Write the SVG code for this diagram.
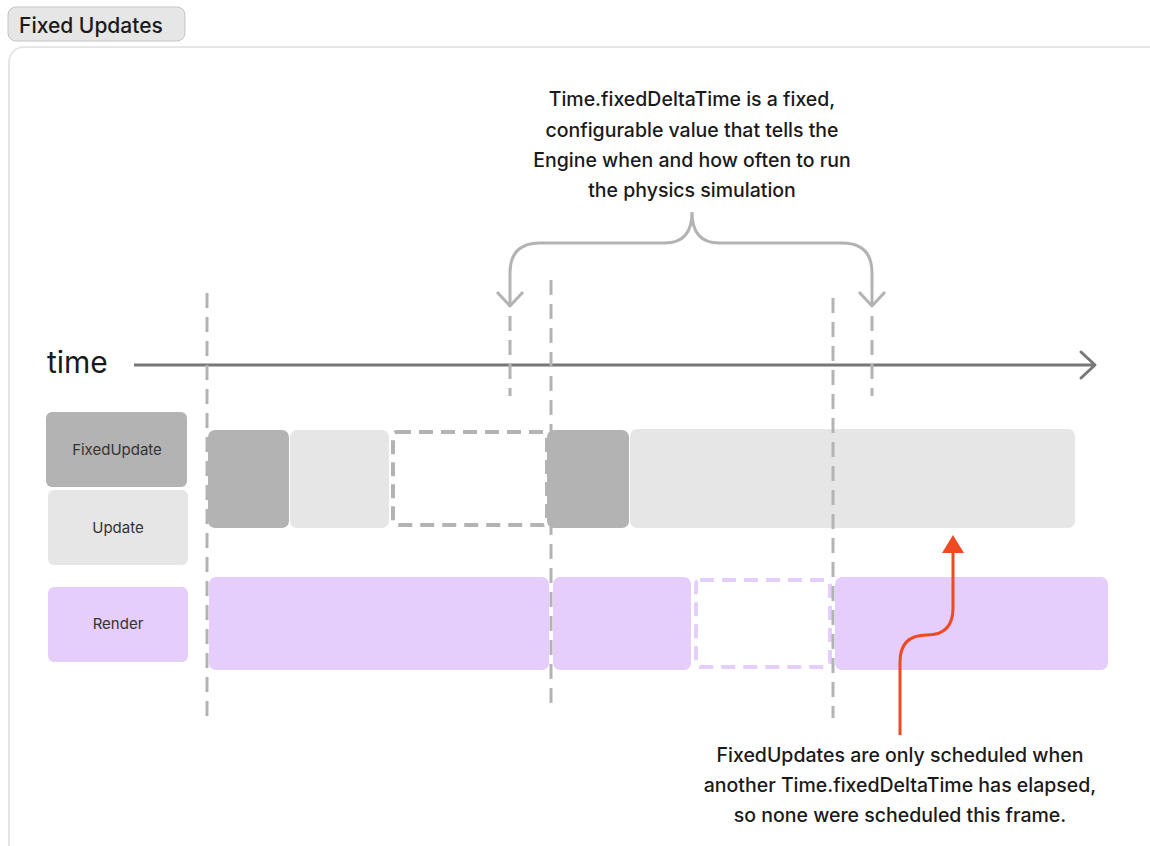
<svg xmlns="http://www.w3.org/2000/svg" width="1150" height="846" viewBox="0 0 1150 846">
<defs>
<style>
text{font-family:Inter,"Noto Sans",sans-serif;fill:#1a1a1a}
.note{font-size:19.5px;text-anchor:middle;font-weight:500}
.lbl{font-size:15px;text-anchor:middle;fill:#333}
.vd{stroke:#b3b3b3;stroke-width:3;stroke-dasharray:15 9;fill:none}
.fu{fill:#b3b3b3}
.up{fill:#e6e6e6}
.rd{fill:#e5cdfc}
</style>
</defs>
<rect x="8" y="7" width="177" height="34" rx="8" fill="#e6e6e6" stroke="#c4c4c4" stroke-width="1"/>
<text x="19" y="33" font-size="21" font-weight="500">Fixed Updates</text>
<rect x="9" y="47" width="1160" height="820" rx="15" fill="#fff" stroke="#e6e6e6" stroke-width="2"/>

<g id="legend-fixedupdate"><rect x="46" y="412" width="141" height="75" rx="6" class="fu"/><text x="117" y="455" class="lbl">FixedUpdate</text></g>
<g id="legend-update"><rect x="48" y="490" width="140" height="75" rx="6" class="up"/><text x="118" y="533" class="lbl">Update</text></g>
<g id="legend-render"><rect x="48" y="587" width="140" height="75" rx="6" class="rd"/><text x="118" y="629" class="lbl">Render</text></g>

<g id="row-update">
<rect x="208" y="430" width="81" height="98" rx="7" class="fu"/>
<rect x="290" y="430" width="99" height="98" rx="7" class="up"/>
<rect x="393" y="432" width="154" height="93" rx="4" fill="none" stroke="#b3b3b3" stroke-width="4" stroke-dasharray="14 8"/>
<rect x="547" y="430" width="82" height="98" rx="7" class="fu"/>
<rect x="630" y="429" width="445" height="99" rx="7" class="up"/>
</g>
<g id="row-render">
<rect x="209" y="577" width="340" height="93" rx="7" class="rd"/>
<rect x="553" y="577" width="138" height="93" rx="7" class="rd"/>
<rect x="696" y="580" width="134" height="87" rx="4" fill="none" stroke="#e5cdfc" stroke-width="4" stroke-dasharray="14 8"/>
<rect x="835" y="577" width="273" height="93" rx="7" class="rd"/>
</g>

<g id="timeline">
<text x="47" y="373" font-size="30">time</text>
<line x1="134" y1="365" x2="1094" y2="365" stroke="#777" stroke-width="3"/>
<polyline points="1081,352 1095,365 1081,378" fill="none" stroke="#777" stroke-width="3" stroke-linecap="round" stroke-linejoin="round"/>
</g>

<g id="connectors">
<line x1="207" y1="293" x2="207" y2="725" class="vd"/>
<line x1="551" y1="280" x2="551" y2="712" class="vd"/>
<line x1="833" y1="298" x2="833" y2="718" class="vd"/>
<line x1="510" y1="316" x2="510" y2="396" class="vd"/>
<line x1="872" y1="316" x2="872" y2="396" class="vd"/>
<path d="M510,306 V273 Q510,243 540,243 H665 Q692,243 692,212 Q692,243 719,243 H842 Q872,243 872,273 V306" fill="none" stroke="#b3b3b3" stroke-width="3"/>
<polyline points="497,292 510,306 523,292" fill="none" stroke="#b3b3b3" stroke-width="3" stroke-linejoin="round"/>
<polyline points="859,292 872,306 885,292" fill="none" stroke="#b3b3b3" stroke-width="3" stroke-linejoin="round"/>
<path d="M900,735 V662 Q900,635 927,635 Q953,635 953,608 V552" fill="none" stroke="#f04a23" stroke-width="3"/>
<polygon points="953,535 964,553 942,553" fill="#f04a23"/>
</g>

<g id="note-top">
<text class="note" x="692" y="106">Time.fixedDeltaTime is a fixed,</text>
<text class="note" x="692" y="137">configurable value that tells the</text>
<text class="note" x="692" y="167">Engine when and how often to run</text>
<text class="note" x="692" y="197">the physics simulation</text>
</g>
<g id="note-bottom">
<text class="note" x="900" y="762">FixedUpdates are only scheduled when</text>
<text class="note" x="900" y="792">another Time.fixedDeltaTime has elapsed,</text>
<text class="note" x="900" y="822">so none were scheduled this frame.</text>
</g>
</svg>
